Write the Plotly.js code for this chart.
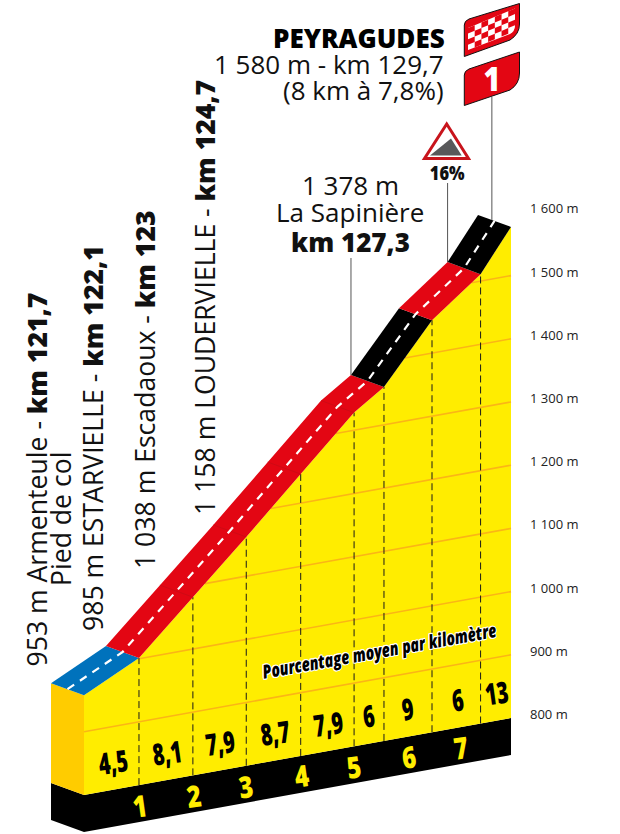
<!DOCTYPE html>
<html><head><meta charset="utf-8">
<script src="https://cdn.plot.ly/plotly-3.0.1.min.js"></script>
<style>html,body{margin:0;padding:0;background:#fff}#c{width:620px;height:834px}</style>
</head><body><div id="c"></div>
<script>
// ---- data ----
const profileKm  = [0, 1.03, 2.04, 3.04, 4.06, 5.06, 5.62, 6.52, 7.43, 8];
const profileAlt = [958, 1001, 1082, 1162, 1246, 1328, 1360, 1452, 1511, 1577];
const roadFrom   = [0, 1.03, 5.62, 6.52, 7.43];
const roadTo     = [1.03, 5.62, 6.52, 7.43, 8];
const roadColors = ['#0072BC', '#E30613', '#000000', '#E30613', '#000000'];
const dashKm     = [1.03, 2.04, 3.04, 4.06, 5.06, 5.62, 6.52, 7.43];
const faintKm    = [2.04, 3.04, 4.06, 5.06];
const gridAlts   = [900, 1000, 1100, 1200, 1300, 1400, 1500];
const tickAlts   = [800, 900, 1000, 1100, 1200, 1300, 1400, 1500, 1600];
const tickText   = ['800 m','900 m','1 000 m','1 100 m','1 200 m','1 300 m','1 400 m','1 500 m','1 600 m'];
const gradKm     = [0.54, 1.55, 2.55, 3.58, 4.57, 5.34, 6.07, 7.0, 7.73];
const gradText   = ['4,5','8,1','7,9','8,7','7,9','6','9','6','13'];
const kmNumPos   = [1.05, 2.06, 3.03, 4.08, 5.06, 6.09, 7.06];
const kmNumText  = ['1','2','3','4','5','6','7'];

// ---- projection of (km, altitude, depth) onto the axes ----
const PX_KM = 53.375, PX_M = 0.632, X0 = 84, Y0 = 795;
const SHEAR = 15.23, DEPTH_KM = 0.618, DEPTH_M = 19, BASE = 800, FLOOR = 741.5, AXIS_KM = 8.36;
const px = (km, alt, d) => km - DEPTH_KM * d;
const py = (km, alt, d) => alt + SHEAR * km + DEPTH_M * d;
const X = p => (p - X0) / PX_KM;            // page pixel to x axis
const Y = p => BASE + (Y0 - p) / PX_M;      // page pixel to y axis
const altAt = km => {
  for (let i = 1; i < profileKm.length; i++) if (km <= profileKm[i] + 1e-9) {
    const t = (km - profileKm[i-1]) / (profileKm[i] - profileKm[i-1]);
    return profileAlt[i-1] + t * (profileAlt[i] - profileAlt[i-1]);
  }
  return profileAlt[profileAlt.length - 1];
};
const kmAt = alt => {
  if (alt <= profileAlt[0]) return 0;
  for (let i = 1; i < profileKm.length; i++) if (alt <= profileAlt[i]) {
    const t = (alt - profileAlt[i-1]) / (profileAlt[i] - profileAlt[i-1]);
    return profileKm[i-1] + t * (profileKm[i] - profileKm[i-1]);
  }
  return 8;
};
const poly = (pts, color) => ({
  type:'scatter', mode:'lines', fill:'toself', fillcolor:color,
  x: pts.map(p => px(p[0], p[1], p[2])), y: pts.map(p => py(p[0], p[1], p[2])),
  line:{width:0, color:color}, hoverinfo:'skip', showlegend:false
});
const line = (pts, color, width, dash) => ({
  type:'scatter', mode:'lines',
  x: pts.map(p => px(p[0], p[1], p[2])), y: pts.map(p => py(p[0], p[1], p[2])),
  line:{width:width, color:color, dash:dash || 'solid'}, hoverinfo:'skip', showlegend:false
});
const rawLine = (xs, ys, color, width) => ({
  type:'scatter', mode:'lines', x:xs, y:ys, line:{width:width, color:color}, hoverinfo:'skip', showlegend:false
});

const traces = [];
const front = profileKm.map((k, i) => [k, profileAlt[i], 0]);
const lastKm = profileKm[profileKm.length - 1];
// black base and left faces
traces.push(poly([[0,BASE,0],[lastKm,BASE,0],[lastKm,FLOOR,0],[0,FLOOR,0]], '#000000'));
traces.push(poly([[0,BASE,1],[0,BASE,0],[0,FLOOR,0],[0,FLOOR,1]], '#000000'));
traces.push(poly([[0,profileAlt[0],1],[0,profileAlt[0],0],[0,BASE,0],[0,BASE,1]], '#FFCC00'));
// yellow front
traces.push(poly(front.concat([[lastKm,BASE,0],[0,BASE,0]]), '#FFED00'));
// orange altitude lines
gridAlts.forEach(a => traces.push(line([[kmAt(a + 0),a,0],[lastKm,a,0]], '#FBB516', 1.6)));
// dashed kilometre lines
dashKm.forEach(k => traces.push(line([[k,BASE,0],[k,altAt(k),0]], '#1a1a1a', 1, '7px,4px')));
// road
roadFrom.forEach((a, i) => {
  const b = roadTo[i];
  const inner = profileKm.filter(k => k > a + 1e-9 && k < b - 1e-9);
  const ks = [a].concat(inner, [b]);
  const f = ks.map(k => [k, altAt(k), 0]);
  const r = ks.slice().reverse().map(k => [k, altAt(k), 1]);
  traces.push(poly(f.concat(r), roadColors[i]));
});
faintKm.forEach(k => traces.push(line([[k,altAt(k),0],[k,altAt(k),1]], '#C50B15', 0.7)));
// dashed centre line
traces.push(line(profileKm.map(k => [k, altAt(k), 0.5]), '#FFFFFF', 2.2, '8px,7px'));
// leader lines
traces.push(rawLine([px(5.62,0,1),px(5.62,0,1)], [py(5.62,altAt(5.62),1), Y(258)], '#555555', 1));
traces.push(rawLine([px(7.43,0,1),px(7.43,0,1)], [py(7.43,altAt(7.43),1), Y(183)], '#555555', 1));
traces.push(rawLine([px(8,0,0.58),px(8,0,0.58)], [py(8,altAt(8),0.58), Y(97)], '#555555', 1));

// ---- text ----
const OS = 'Open Sans, sans-serif';
const SIZE = 26, VSIZE = 26.6;
const B = s => '<span style="font-weight:800">' + s + '</span>';
const ann = [];
const squeeze = {};   // annotation index -> horizontal glyph ratio
const T = (text, x, y, size, opt, ratio) => {
  if (ratio) squeeze[ann.length] = ratio;
  ann.push(Object.assign({
    text:text, x:X(x), y:Y(y), xref:'x', yref:'y', showarrow:false, xanchor:'center', yanchor:'middle',
    font:{family:OS, size:size, color:'#111111'}
  }, opt || {}));
};
const V = {textangle:-90};
T('953 m Armenteule - ' + B('km 121,7'), 36, 479.5, VSIZE, V);
T('Pied de col', 61, 519, VSIZE, V);
T('985 m ESTARVIELLE - ' + B('km 122,1'), 93, 438, VSIZE, V);
T('1 038 m Escadaoux - ' + B('km 123'), 145, 390, VSIZE, V);
T('1 158 m LOUDERVIELLE - ' + B('km 124,7'), 205, 298, VSIZE, V);
T('PEYRAGUDES', 447, 38, SIZE, {xanchor:'right', font:{family:OS, size:SIZE, weight:800, color:'#000'}});
T('1 580 m - km 129,7', 446, 64, SIZE, {xanchor:'right'});
T('(8 km à 7,8%)', 446, 90, SIZE, {xanchor:'right'});
T('1 378 m', 350, 184.5, SIZE);
T('La Sapinière', 350, 212, SIZE);
T(B('km 127,3'), 350, 242, SIZE);
T('16%', 447, 172, 20, {font:{family:OS, size:20, weight:800, color:'#111'}}, 0.82);
T('1', 492, 78, 34, {font:{family:OS, size:34, weight:800, color:'#fff'}}, 0.85);

gradText.forEach((t, i) => {
  squeeze[ann.length] = 0.66;
  ann.push({
    text:t, x:px(gradKm[i],0,0), y:py(gradKm[i],844,0), xref:'x', yref:'y', showarrow:false,
    textangle:-8, font:{family:OS, size:30, weight:800, color:'#000'}
  });
});
kmNumText.forEach((t, i) => {
  squeeze[ann.length] = 0.8;
  ann.push({
    text:t, x:px(kmNumPos[i],0,0), y:py(kmNumPos[i],768,0), xref:'x', yref:'y', showarrow:false,
    textangle:-8, font:{family:OS, size:30, weight:800, color:'#FFED00'}
  });
});
T('Pourcentage moyen par kilomètre', 379, 651, 19, {
  textangle:-10.2,
  font:{family:OS, size:19, weight:800, style:'italic', color:'#000',
        shadow:'1px 0 0 #fff,-1px 0 0 #fff,0 1px 0 #fff,0 -1px 0 #fff,1px 1px 0 #fff,-1px -1px 0 #fff,1px -1px 0 #fff,-1px 1px 0 #fff'}
}, 0.745);

// ---- pictograms ----
const P = pts => 'M ' + pts.map(p => p[0] === 'Q'
  ? 'Q ' + X(p[1]) + ' ' + Y(p[2]) + ' ' + X(p[3]) + ' ' + Y(p[4])
  : 'L ' + X(p[0]) + ' ' + Y(p[1])).join(' ').replace(/^L /, '') + ' Z';
const S = (pts, fill, lineColor, w) => ({
  type:'path', xref:'x', yref:'y', layer:'above', path:P(pts), fillcolor:fill,
  line:{color:lineColor || fill, width:w === undefined ? 0 : w}
});
const shapes = [];
// finish flag
shapes.push(S([[464.3,56.5],[464.3,25],['Q',464.3,21,469,19],[519.5,3.5],[519.5,24],['Q',519.5,34,510,40]], '#E30613', '#111', 1));
shapes.push(S([[468,50],[468,28],[515,8.5],[515,26],['Q',515,31,510,34]], '#FFFFFF'));
for (let c = 0; c < 7; c++) for (let r = 0; r < 4; r++) if ((c + r) % 2 === 0) {
  const x0 = 468 + c * 6.71, x1 = x0 + 6.71, tl = 28 - 0.415 * (x0 - 468) + r * 5.6, tr = 28 - 0.415 * (x1 - 468) + r * 5.6;
  if (c === 6 && r === 3) continue;
  shapes.push(S([[x0,tl],[x1,tr],[x1,tr+5.6],[x0,tl+5.6]], '#E30613'));
}
// first-category flag
shapes.push(S([[464.3,105.5],[464.3,75],['Q',464.3,71,469,69],[519.5,52],[519.5,73],['Q',519.5,84,510,90]], '#E30613', '#111', 1));
// gradient sign
shapes.push(S([[446.7,124],[468.5,158.5],[424.5,158.5]], '#FFFFFF', '#C8141C', 3));
shapes.push(S([[430,155.5],[451,138.5],[461.7,155.5]], '#58585A'));

const layout = {
  width:620, height:834, margin:{l:0,r:0,t:0,b:0},
  paper_bgcolor:'#fff', plot_bgcolor:'#fff', showlegend:false,
  xaxis:{range:[X(0), X(620)], visible:false, fixedrange:true},
  yaxis:{range:[Y(834), Y(0)], side:'right', anchor:'free', position:529/620,
    showgrid:false, zeroline:false, showline:false, ticks:'', fixedrange:true,
    tickmode:'array', tickvals:tickAlts.map(a => py(AXIS_KM, a, 0)), ticktext:tickText,
    tickfont:{family:OS, size:13, color:'#222'}},
  annotations:ann, shapes:shapes
};
Plotly.newPlot('c', traces, layout, {staticPlot:true, displayModeBar:false}).then(() => {
  document.querySelectorAll('#c .annotation').forEach(g => {
    const ratio = squeeze[+g.getAttribute('data-index')];
    if (!ratio) return;
    const t = g.querySelector('text.annotation-text') || g.querySelector('text');
    if (!t) return;
    t.setAttribute('textLength', (t.getComputedTextLength() * ratio).toFixed(1));
    t.setAttribute('lengthAdjust', 'spacingAndGlyphs');
  });
});
</script></body></html>
